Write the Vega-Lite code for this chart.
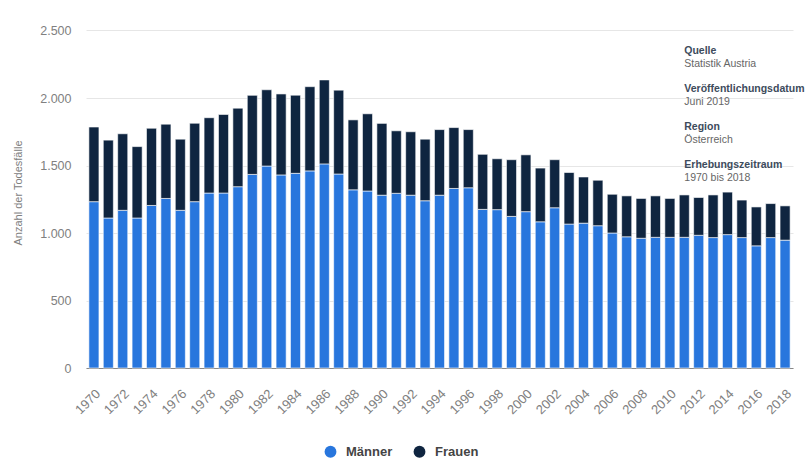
{
  "$schema": "https://vega.github.io/schema/vega-lite/v6.json",
  "width": 707,
  "height": 351,
  "autosize": {"type": "none"},
  "padding": {"left": 86, "top": 17, "right": 15, "bottom": 91},
  "config": {
    "locale": {"number": {"decimal": ",", "thousands": ".", "grouping": [3], "currency": ["", " €"]}},
    "view": {"stroke": null},
    "font": "Liberation Sans"
  },
  "layer": [
    {
      "data": {
        "values": [
          {"year": "1970", "Männer": 1232, "Frauen": 553},
          {"year": "1971", "Männer": 1111, "Frauen": 577},
          {"year": "1972", "Männer": 1168, "Frauen": 567},
          {"year": "1973", "Männer": 1111, "Frauen": 529},
          {"year": "1974", "Männer": 1204, "Frauen": 572},
          {"year": "1975", "Männer": 1256, "Frauen": 550},
          {"year": "1976", "Männer": 1168, "Frauen": 527},
          {"year": "1977", "Männer": 1232, "Frauen": 581},
          {"year": "1978", "Männer": 1296, "Frauen": 558},
          {"year": "1979", "Männer": 1296, "Frauen": 582},
          {"year": "1980", "Männer": 1343, "Frauen": 582},
          {"year": "1981", "Männer": 1434, "Frauen": 586},
          {"year": "1982", "Männer": 1496, "Frauen": 565},
          {"year": "1983", "Männer": 1430, "Frauen": 600},
          {"year": "1984", "Männer": 1442, "Frauen": 579},
          {"year": "1985", "Männer": 1460, "Frauen": 624},
          {"year": "1986", "Männer": 1512, "Frauen": 622},
          {"year": "1987", "Männer": 1437, "Frauen": 621},
          {"year": "1988", "Männer": 1320, "Frauen": 518},
          {"year": "1989", "Männer": 1311, "Frauen": 572},
          {"year": "1990", "Männer": 1280, "Frauen": 532},
          {"year": "1991", "Männer": 1294, "Frauen": 463},
          {"year": "1992", "Männer": 1280, "Frauen": 470},
          {"year": "1993", "Männer": 1239, "Frauen": 456},
          {"year": "1994", "Männer": 1280, "Frauen": 486},
          {"year": "1995", "Männer": 1330, "Frauen": 451},
          {"year": "1996", "Männer": 1335, "Frauen": 431},
          {"year": "1997", "Männer": 1175, "Frauen": 408},
          {"year": "1998", "Männer": 1173, "Frauen": 377},
          {"year": "1999", "Männer": 1123, "Frauen": 420},
          {"year": "2000", "Männer": 1158, "Frauen": 421},
          {"year": "2001", "Männer": 1083, "Frauen": 398},
          {"year": "2002", "Männer": 1187, "Frauen": 356},
          {"year": "2003", "Männer": 1066, "Frauen": 382},
          {"year": "2004", "Männer": 1073, "Frauen": 342},
          {"year": "2005", "Männer": 1054, "Frauen": 337},
          {"year": "2006", "Männer": 1000, "Frauen": 287},
          {"year": "2007", "Männer": 972, "Frauen": 303},
          {"year": "2008", "Männer": 961, "Frauen": 295},
          {"year": "2009", "Männer": 968, "Frauen": 307},
          {"year": "2010", "Männer": 968, "Frauen": 288},
          {"year": "2011", "Männer": 968, "Frauen": 314},
          {"year": "2012", "Männer": 983, "Frauen": 280},
          {"year": "2013", "Männer": 966, "Frauen": 316},
          {"year": "2014", "Männer": 988, "Frauen": 315},
          {"year": "2015", "Männer": 966, "Frauen": 278},
          {"year": "2016", "Männer": 905, "Frauen": 288},
          {"year": "2017", "Männer": 966, "Frauen": 252},
          {"year": "2018", "Männer": 947, "Frauen": 254}
        ]
      },
      "transform": [{"fold": ["Männer", "Frauen"], "as": ["Geschlecht", "Anzahl"]}],
      "mark": {"type": "bar", "stroke": "white", "strokeWidth": 0.6},
      "encoding": {
        "x": {
          "field": "year",
          "type": "ordinal",
          "scale": {"paddingInner": 0.3, "paddingOuter": 0.2},
          "axis": {
            "title": null,
            "values": ["1970","1972","1974","1976","1978","1980","1982","1984","1986","1988","1990","1992","1994","1996","1998","2000","2002","2004","2006","2008","2010","2012","2014","2016","2018"],
            "labelAngle": -45,
            "labelColor": "#808080",
            "labelFontSize": 13,
            "labelPadding": 19,
            "ticks": false,
            "domainColor": "#888888",
            "domainWidth": 1
          }
        },
        "y": {
          "field": "Anzahl",
          "type": "quantitative",
          "aggregate": "sum",
          "stack": "zero",
          "scale": {"domain": [0, 2500]},
          "axis": {
            "title": "Anzahl der Todesfälle",
            "titleColor": "#808080",
            "titleFontWeight": "normal",
            "titleFontSize": 11,
            "titlePadding": 16,
            "values": [0, 500, 1000, 1500, 2000, 2500],
            "format": ",d",
            "labelColor": "#808080",
            "labelFontSize": 12.5,
            "labelPadding": 15,
            "ticks": false,
            "domain": false,
            "gridColor": "#e6e6e6"
          }
        },
        "color": {
          "field": "Geschlecht",
          "type": "nominal",
          "scale": {"domain": ["Männer", "Frauen"], "range": ["#2876dd", "#0f2540"]},
          "legend": {
            "title": null,
            "orient": "none",
            "direction": "horizontal",
            "legendX": 238,
            "legendY": 428,
            "symbolType": "circle",
            "symbolSize": 140,
            "symbolStrokeWidth": 0,
            "labelFontSize": 13,
            "labelFontWeight": "bold",
            "labelColor": "#444444",
            "labelOffset": 9,
            "columnPadding": 20
          }
        },
        "order": {"field": "Geschlecht", "sort": "descending"}
      }
    },
    {
      "data": {"values": [{}]},
      "mark": {
        "type": "text",
        "align": "left",
        "baseline": "top",
        "fontSize": 10.5,
        "fontWeight": "bold",
        "color": "#3d4b5c",
        "lineHeight": 38,
        "text": ["Quelle", "Veröffentlichungsdatum", "Region", "Erhebungszeitraum"]
      },
      "encoding": {
        "x": {"datum": "2011", "type": "ordinal"},
        "y": {"datum": 2386, "type": "quantitative"}
      }
    },
    {
      "data": {"values": [{}]},
      "mark": {
        "type": "text",
        "align": "left",
        "baseline": "top",
        "fontSize": 10.5,
        "color": "#666666",
        "lineHeight": 38,
        "text": ["Statistik Austria", "Juni 2019", "Österreich", "1970 bis 2018"]
      },
      "encoding": {
        "x": {"datum": "2011", "type": "ordinal"},
        "y": {"datum": 2286, "type": "quantitative"}
      }
    }
  ]
}
